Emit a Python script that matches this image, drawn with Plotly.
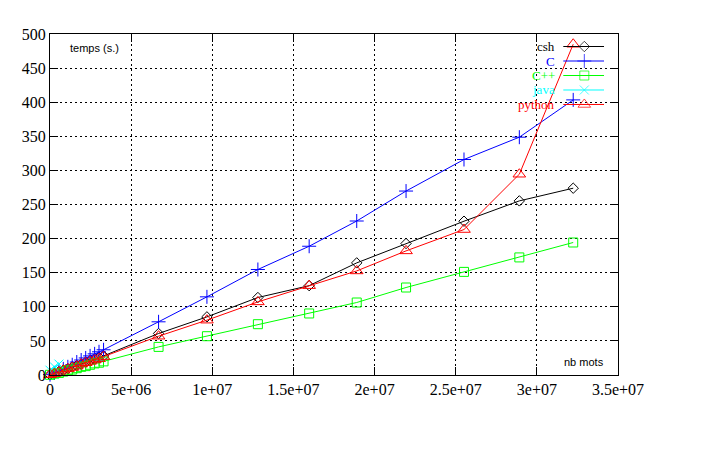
import plotly.graph_objects as go

# ---- data ----
nb_mots = [0, 0.27e6, 0.55e6, 0.82e6, 1.1e6, 1.37e6, 1.65e6, 1.92e6, 2.2e6, 2.47e6, 2.75e6,
           3.02e6, 3.3e6,
           6.69e6, 9.67e6, 1.281e7, 1.597e7, 1.890e7, 2.194e7, 2.551e7, 2.892e7, 3.224e7]
csh = [0.3, 2, 5, 7, 9, 12, 14, 16, 19, 21, 23, 26, 28,
       60.9, 85.2, 113.6, 131.0, 164.4, 192.8, 225.5, 255.3, 273.9]
c_lang = [0.5, 3, 6, 9, 12, 15, 19, 22, 25, 28, 31, 34, 37,
          78.0, 114.6, 154.7, 188.8, 225.8, 269.7, 316.0, 348.7, 403.4]
cpp = [0.3, 2, 3, 5, 7, 8, 10, 12, 13, 15, 17, 18, 20,
       41.2, 56.9, 74.5, 90.2, 106.3, 128.3, 151.2, 172.4, 194.3]
python = [0.5, 2, 4, 7, 9, 11, 13, 16, 18, 20, 22, 24, 27,
          56.9, 80.4, 107.2, 131.0, 152.6, 182.0, 213.3, 294.4, 485.0]
java_x = [0, 0.27e6, 0.55e6]
java_y = [7, 12, 16]

series_names = ["csh", "C", "C++", "java", "python"]
x_ticks = [0, 5e6, 1e7, 1.5e7, 2e7, 2.5e7, 3e7, 3.5e7]
x_tick_labels = ["0", "5e+06", "1e+07", "1.5e+07", "2e+07", "2.5e+07", "3e+07", "3.5e+07"]
y_ticks = [0, 50, 100, 150, 200, 250, 300, 350, 400, 450, 500]

# ---- styles ----
colors = ["#000000", "#0000ff", "#00ff00", "#00ffff", "#ff0000"]
symbols = ["diamond-open", "cross-thin-open", "square-open", "x-thin-open", "triangle-up-open"]
sizes = [8, 10, 9, 9, 11]

xs = [nb_mots, nb_mots, nb_mots, java_x, nb_mots]
ys = [csh, c_lang, cpp, java_y, python]

fig = go.Figure()
for name, x, y, col, sym, sz in zip(series_names, xs, ys, colors, symbols, sizes):
    fig.add_trace(go.Scatter(
        x=x, y=y, mode="lines+markers", name=name,
        line=dict(color=col, width=1),
        marker=dict(symbol=sym, size=sz, color=col, line=dict(color=col, width=1)),
        cliponaxis=False,
    ))

# ---- gnuplot-style key (labels left, sample right) ----
key_rows = [0.9633, 0.9208, 0.8783, 0.8358, 0.7933]
key_x0, key_xm, key_x1, key_label_x = 0.9037, 0.9407, 0.9754, 0.8926
for name, col, sym, sz, ry in zip(series_names, colors, symbols, sizes, key_rows):
    fig.add_trace(go.Scatter(
        x=[key_x0, key_xm, key_x1], y=[ry, ry, ry], xaxis="x2", yaxis="y2",
        mode="lines+markers", showlegend=False, hoverinfo="skip",
        line=dict(color=col, width=1),
        marker=dict(symbol=sym, size=[0, sz, 0], color=col, line=dict(color=col, width=1)),
    ))
    fig.add_annotation(x=key_label_x, y=ry, xref="paper", yref="paper", text=name,
                       showarrow=False, xanchor="right", yanchor="middle",
                       font=dict(family="Liberation Serif", size=13, color=col))

# axis titles placed inside the plot, as in gnuplot
fig.add_annotation(x=0.079, y=0.959, xref="paper", yref="paper", text="temps (s.)",
                   showarrow=False, xanchor="center", yanchor="middle",
                   font=dict(family="Liberation Sans", size=11, color="black"))
fig.add_annotation(x=0.940, y=0.038, xref="paper", yref="paper", text="nb mots",
                   showarrow=False, xanchor="center", yanchor="middle",
                   font=dict(family="Liberation Sans", size=11, color="black"))

# white box hiding the grid behind the key
fig.add_shape(type="rect", xref="paper", yref="paper", x0=0.611, x1=0.998, y0=0.78, y1=0.997,
              fillcolor="white", line=dict(width=0), layer="between")

axis_common = dict(
    showline=True, linecolor="black", linewidth=1, mirror="ticks",
    ticks="inside", ticklen=8, tickwidth=1, tickcolor="black",
    showgrid=True, gridcolor="black", gridwidth=1, griddash="2px,3px",
    zeroline=False, tickfont=dict(family="Liberation Serif", size=16, color="black"),
)
# page body has an 8px default margin, compensated here
fig.update_layout(
    width=712, height=452,
    margin=dict(l=42, r=102, t=26, b=85),
    plot_bgcolor="white", paper_bgcolor="white",
    showlegend=False,
    xaxis=dict(range=[0, 3.5e7], tickvals=x_ticks, ticktext=x_tick_labels, **axis_common),
    yaxis=dict(range=[0, 500], tickvals=y_ticks, **axis_common),
    xaxis2=dict(overlaying="x", range=[0, 1], visible=False, fixedrange=True),
    yaxis2=dict(overlaying="y", range=[0, 1], visible=False, fixedrange=True),
)

fig.write_html("out.html")
